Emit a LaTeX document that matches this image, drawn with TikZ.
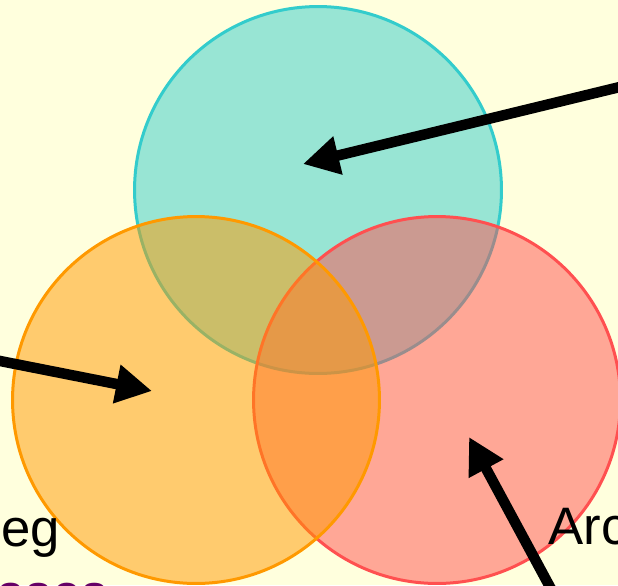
\documentclass[tikz,border=0pt]{standalone}
\usepackage{fontspec}
\setmainfont{Liberation Sans}
\usepackage{xcolor}
\usepackage{tikz}
\usetikzlibrary{arrows.meta,positioning}

\definecolor{bgyellow}{HTML}{FFFFDD}
\definecolor{setteal}{HTML}{33CCCC}
\definecolor{setorange}{HTML}{FF9900}
\definecolor{setred}{HTML}{FF5050}
\definecolor{labpurple}{HTML}{660066}

\begin{document}
\begin{tikzpicture}[
			x=0.02cm, y=-0.02cm,
			setcircle/.style={circle, minimum size=7.34cm, inner sep=0pt, line width=0.06cm, fill opacity=0.5},
			pointer/.style={line width=0.21cm, -{Triangle[length=0.72cm,width=0.74cm]}},
			setlabel/.style={font=\fontsize{30}{34}\selectfont, inner sep=0pt, anchor=base west}
			]

				\fill[bgyellow] (0,0) rectangle (618,585);
				\useasboundingbox (0,0) rectangle (618,585);
				\clip (0,0) rectangle (618,585);

				\node[setcircle, draw=setteal, fill=setteal] (teal) at (318,190) {};
				\node[setcircle, draw=setred, fill=setred] (red) at (437,400) {};
				\node[setcircle, draw=setorange, fill=setorange] (orange) at (196,400) {};

				\node[setlabel] (leftlab) at (1,546) {eg};
				\node[setlabel] (rightlab) at (548,544) {Arc};
				\node[setlabel, text=labpurple] (purplelab) at (-4,611) {ases};

				\coordinate (tealfrom) at (628,85);
				\coordinate (tealto) at (303,164);
				\coordinate (orangefrom) at (-10,359);
				\coordinate (orangeto) at (152,391);
				\coordinate (redfrom) at (557,600);
				\coordinate (redto) at (469,437);

				\draw[pointer] (tealfrom) -- (tealto);
				\draw[pointer] (orangefrom) -- (orangeto);
				\draw[pointer] (redfrom) -- (redto);

			\end{tikzpicture}
\end{document}
